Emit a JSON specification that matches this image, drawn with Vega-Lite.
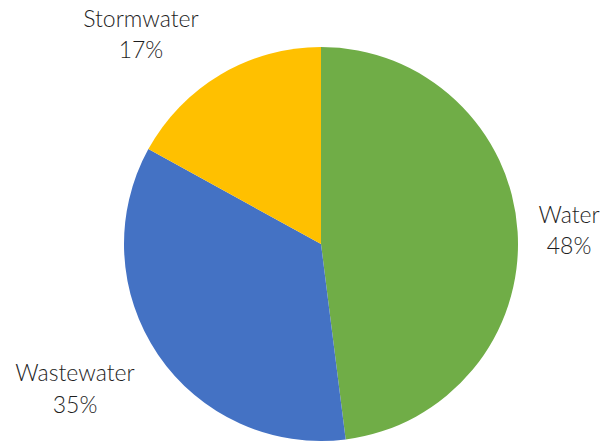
{
  "$schema": "https://vega.github.io/schema/vega-lite/v6.json",
  "autosize": {"type": "none"},
  "width": 568,
  "height": 398,
  "padding": {"left": 37, "top": 45, "right": 0, "bottom": 0},
  "background": "white",
  "view": {"stroke": null},
  "config": {"text": {"font": "Lato", "fontWeight": 300, "fontSize": 23, "color": "#1e1e1e", "baseline": "middle", "align": "center"}},
  "data": {"values": [
    {"category": "Water", "share": 0.48, "order": 1},
    {"category": "Wastewater", "share": 0.35, "order": 2},
    {"category": "Stormwater", "share": 0.17, "order": 3}
  ]},
  "encoding": {
    "theta": {"field": "share", "type": "quantitative", "stack": true},
    "order": {"field": "order", "type": "quantitative"}
  },
  "layer": [
    {
      "mark": {"type": "arc", "outerRadius": 197},
      "encoding": {
        "color": {"field": "category", "type": "nominal",
          "scale": {"domain": ["Water", "Wastewater", "Stormwater"], "range": ["#70AD47", "#4472C4", "#FFC000"]},
          "legend": null}
      }
    },
    {
      "mark": {"type": "text", "radius": 250, "dx": -1.5, "dy": -12.3},
      "encoding": {"text": {"condition": {"test": "datum.category === 'Water'", "field": "category"}, "value": ""}}
    },
    {
      "mark": {"type": "text", "radius": 250, "dx": -1.5, "dy": 18.7},
      "encoding": {"text": {"condition": {"test": "datum.category === 'Water'", "field": "share", "format": ".0%"}, "value": ""}}
    },
    {
      "mark": {"type": "text", "radius": 280, "dx": -14.4, "dy": -26.9},
      "encoding": {"text": {"condition": {"test": "datum.category === 'Wastewater'", "field": "category"}, "value": ""}}
    },
    {
      "mark": {"type": "text", "radius": 280, "dx": -14.4, "dy": 4.6},
      "encoding": {"text": {"condition": {"test": "datum.category === 'Wastewater'", "field": "share", "format": ".0%"}, "value": ""}}
    },
    {
      "mark": {"type": "text", "radius": 250, "dx": -52.8, "dy": -9.3},
      "encoding": {"text": {"condition": {"test": "datum.category === 'Stormwater'", "field": "category"}, "value": ""}}
    },
    {
      "mark": {"type": "text", "radius": 250, "dx": -52.8, "dy": 22.2},
      "encoding": {"text": {"condition": {"test": "datum.category === 'Stormwater'", "field": "share", "format": ".0%"}, "value": ""}}
    }
  ]
}
